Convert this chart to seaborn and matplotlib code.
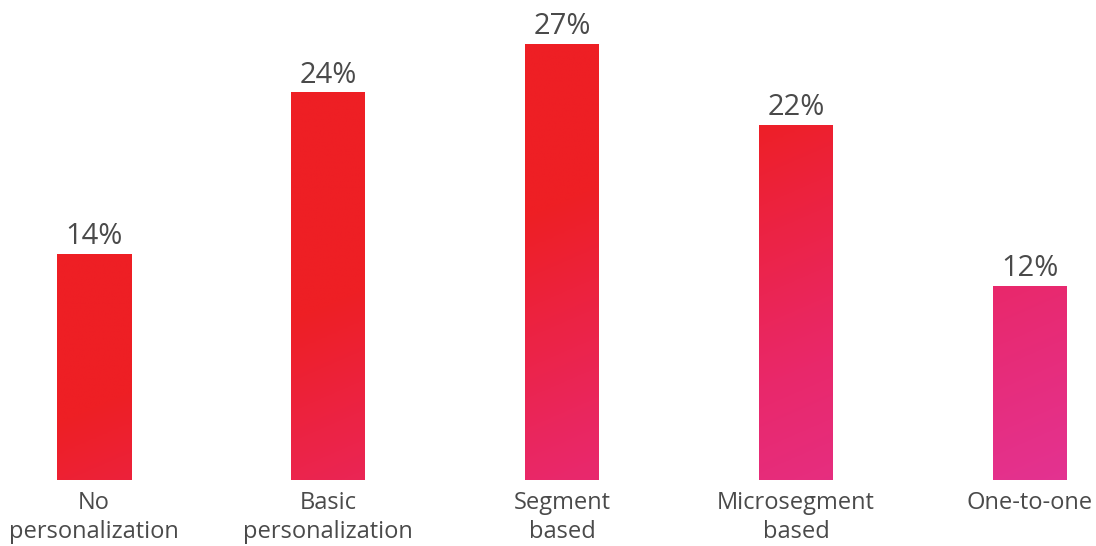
import numpy as np
import pandas as pd
import seaborn as sns
import matplotlib.pyplot as plt
from matplotlib.colors import LinearSegmentedColormap

sns.set_style("white")
plt.rcParams['font.family'] = ['Open Sans', 'DejaVu Sans']

# data
categories = ["No\npersonalization", "Basic\npersonalization", "Segment\nbased",
              "Microsegment\nbased", "One-to-one"]
values = [14, 24, 27, 22, 12]

TEXT = "#4a4a4a"
W, H = 1096, 546
BASE = 480          # pixel row of bar bottoms
SPACING = 234       # pixels between bar centres
X0 = 94             # pixel of first bar centre
PX_PER_PCT = 16.15

fig = plt.figure(figsize=(W / 100, H / 100), dpi=100)
ax = fig.add_axes([0, (H - BASE) / H, 1, BASE / H])

df = pd.DataFrame({"cat": categories, "val": values})
sns.barplot(data=df, x="cat", y="val", color="#ee1f24", width=74 / SPACING, ax=ax)

ax.set_xlim(-X0 / SPACING, (W - X0) / SPACING)
ax.set_ylim(0, BASE / PX_PER_PCT)

# diagonal red -> pink gradient clipped to each bar
cmap = LinearSegmentedColormap.from_list(
    "grad", [(0, "#ee1f24"), (0.47, "#ee1f25"), (0.75, "#e9286a"), (1.0, "#e33393")])
xs = np.linspace(0, 1, 400)
ys = np.linspace(0, 1, 400)  # 0 = top
gx, gy = np.meshgrid(xs, ys)
grad = 0.5 * gx + 0.5 * gy
x_lo, x_hi = ax.get_xlim()
y_lo, y_hi = ax.get_ylim()
for bar in ax.patches:
    im = ax.imshow(grad, cmap=cmap, vmin=0, vmax=1, aspect="auto",
                   extent=[x_lo, x_hi, y_lo, y_hi], origin="upper", zorder=3)
    im.set_clip_path(bar)
ax.set_xlim(x_lo, x_hi)
ax.set_ylim(y_lo, y_hi)

for c in ax.containers:
    ax.bar_label(c, labels=[f"{v}%" for v in values], padding=2,
                 fontsize=21, color=TEXT, zorder=4)

ax.set_xlabel("")
ax.set_ylabel("")
ax.set_yticks([])
ax.tick_params(axis="x", length=0, pad=8, labelsize=17, labelcolor=TEXT)
for lbl in ax.get_xticklabels():
    lbl.set_linespacing(1.25)
sns.despine(ax=ax, left=True, bottom=True)

fig.savefig("out.png", dpi=100)
